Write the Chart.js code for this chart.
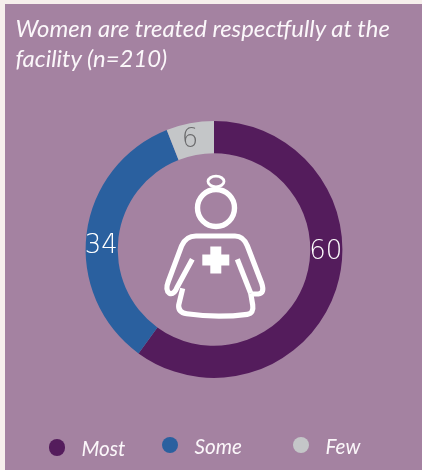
<!DOCTYPE html>
<html>
<head>
<meta charset="utf-8">
<script src="https://cdn.jsdelivr.net/npm/chart.js@4"></script>
<style>
html,body{margin:0;padding:0;background:#f6efec;width:422px;height:470px;overflow:hidden}
#panel{position:absolute;left:5px;top:4px;width:417px;height:466px;background:#a482a1}
#c{position:absolute;left:0;top:0}
.t{position:absolute;font-family:Lato,sans-serif;font-style:italic;color:#fbf7fa;white-space:nowrap}
.d{position:absolute;width:16.5px;height:16.5px;border-radius:50%}
</style>
</head>
<body>
<div id="panel"></div>
<canvas id="c" width="422" height="470"></canvas>
<div id="title"></div>
<div id="legend"></div>
<script>
const titleLines = ["Women are treated respectfully at the", "facility (n=210)"];
const categories = ["Most", "Some", "Few"];
const values = [60, 34, 6];
const colors = ["#541c5c", "#2a609f", "#c4c6c8"];
const labelColors = ["#ffffff", "#ffffff", "#6a6a6c"];
const labelAngles = [91, 272, 348];
const legendDotX = [48.5, 161.5, 292.5];
const legendDotY = [439, 436.7, 436.7];
const legendTextX = [81.5, 194.5, 325.5];
const legendTextBaseline = [455, 453, 453];

const titleBox = document.getElementById('title');
titleLines.forEach((line, i) => {
  const s = document.createElement('div');
  s.className = 't';
  s.textContent = line;
  s.style.cssText = 'left:15.5px;top:' + (13 + i * 30) + 'px;font-size:23.9px;line-height:30px;';
  titleBox.appendChild(s);
});
const legendBox = document.getElementById('legend');
categories.forEach((name, i) => {
  const d = document.createElement('div');
  d.className = 'd';
  d.style.left = legendDotX[i] + 'px';
  d.style.top = legendDotY[i] + 'px';
  d.style.background = colors[i];
  legendBox.appendChild(d);
  const s = document.createElement('div');
  s.className = 't';
  s.textContent = name;
  s.style.cssText = 'left:' + legendTextX[i] + 'px;top:' + (legendTextBaseline[i] - 20) + 'px;font-size:20.7px;line-height:26px;';
  legendBox.appendChild(s);
});

const overlay = {
  id: 'overlay',
  afterDatasetsDraw(chart) {
    const ctx = chart.ctx;
    const arcs = chart.getDatasetMeta(0).data;
    ctx.save();
    ctx.textAlign = 'center';
    ctx.textBaseline = 'middle';
    ctx.font = '200 26px "DejaVu Sans", sans-serif';
    arcs.forEach((arc, i) => {
      const a = labelAngles[i] * Math.PI / 180;
      const r = (arc.innerRadius + arc.outerRadius) / 2;
      ctx.fillStyle = labelColors[i];
      ctx.fillText(String(values[i]), arc.x + r * Math.sin(a) - 0.5, arc.y - r * Math.cos(a) + 1);
    });
    // nurse pictogram, centred on the doughnut
    const o = arcs[0];
    ctx.translate(o.x, o.y);
    ctx.strokeStyle = '#ffffff';
    ctx.fillStyle = '#ffffff';
    ctx.lineCap = 'round';
    ctx.lineJoin = 'round';
    ctx.lineWidth = 5.4;
    ctx.beginPath();
    ctx.arc(2, -41.5, 18.5, 0, Math.PI * 2);
    ctx.stroke();
    ctx.lineWidth = 2.8;
    ctx.beginPath();
    ctx.ellipse(2, -68, 8, 5.3, 0, 0, Math.PI * 2);
    ctx.stroke();
    ctx.lineWidth = 5.2;
    ctx.lineCap = 'butt';
    ctx.stroke(new Path2D('M-21.7 9.8 L-37 38 Q-40 45.5 -44.7 43.8 Q-49 40.5 -45.7 32 L-32.3 -3.8 Q-28 -13.5 -18 -13.5 L21 -13.5 Q29.3 -13.5 33.3 -3.8 L47.7 33.8 Q51 43.8 44.3 44.5 L37.7 44.5'));
    ctx.stroke(new Path2D('M23.3 9.8 L36.7 43.8'));
    ctx.stroke(new Path2D('M-31.3 38.8 L-35.3 55.5 Q-36 62.8 -27.3 64.2 Q2.7 68.8 33.3 64.8 Q40 63.8 38.7 55.5 L36.7 43.8'));
    ctx.fillRect(-11.7, 5.0, 27, 11);
    ctx.fillRect(-3.7, -3.0, 11, 27);
    ctx.restore();
  }
};

new Chart(document.getElementById('c'), {
  type: 'doughnut',
  data: {
    labels: categories,
    datasets: [{ data: values, backgroundColor: colors, borderWidth: 0 }]
  },
  options: {
    responsive: false,
    animation: false,
    cutout: '75%',
    layout: { padding: { left: 85.6, right: 79.6, top: 121, bottom: 92 } },
    plugins: { legend: { display: false }, tooltip: { enabled: false } }
  },
  plugins: [overlay]
});
</script>
</body>
</html>
